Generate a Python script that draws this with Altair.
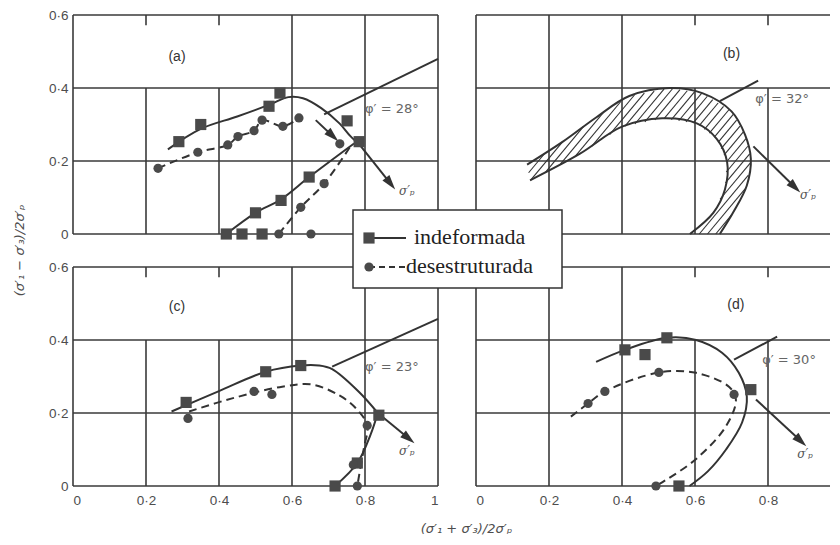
import math
import altair as alt
import pandas as pd

# ---------------- text / ticks ----------------
X_TICKS = [0, 0.2, 0.4, 0.6, 0.8, 1.0]
Y_TICKS = [0, 0.2, 0.4, 0.6]
SERIES = ["indeformada", "desestruturada"]
PANEL_LABELS = ["(a)", "(b)", "(c)", "(d)"]
PHI_LABELS = ["φ′ = 28°", "φ′ = 32°", "φ′ = 23°", "φ′ = 30°"]
SIGMA_LABEL = "σ′ₚ"
X_TITLE = "(σ′₁ + σ′₃)/2σ′ₚ"
Y_TITLE = "(σ′₁ − σ′₃)/2σ′ₚ"

# ---------------- panel (a) ----------------
A_SQ_X = [0.29, 0.35, 0.537, 0.567, 0.751, 0.784, 0.647, 0.57, 0.50, 0.42, 0.463, 0.518]
A_SQ_Y = [0.253, 0.30, 0.35, 0.386, 0.31, 0.253, 0.156, 0.092, 0.058, 0.0, 0.0, 0.0]
A_CI_X = [0.233, 0.342, 0.424, 0.452, 0.496, 0.518, 0.575, 0.619, 0.731, 0.688, 0.624, 0.564, 0.652]
A_CI_Y = [0.18, 0.224, 0.244, 0.267, 0.283, 0.312, 0.295, 0.318, 0.247, 0.138, 0.073, 0.0, 0.0]
A_YIELD_X = [0.26, 0.35, 0.45, 0.54, 0.59, 0.63, 0.68, 0.73, 0.76, 0.785]
A_YIELD_Y = [0.232, 0.288, 0.322, 0.355, 0.375, 0.372, 0.345, 0.303, 0.268, 0.245]
A_PATH_X = [0.42, 0.50, 0.57, 0.647, 0.77]
A_PATH_Y = [0.0, 0.058, 0.095, 0.156, 0.248]
A_DASH1_X = [0.233, 0.342, 0.424, 0.452, 0.496, 0.518, 0.575, 0.619]
A_DASH1_Y = [0.18, 0.224, 0.244, 0.267, 0.283, 0.312, 0.295, 0.318]
A_DASH2_X = [0.564, 0.624, 0.688, 0.76]
A_DASH2_Y = [0.0, 0.073, 0.138, 0.24]
A_FAIL_X = [0.688, 1.0]
A_FAIL_Y = [0.328, 0.48]
A_ARROWS = [(0.785, 0.245, 0.87, 0.138), (0.665, 0.312, 0.712, 0.268)]

# ---------------- panel (b) ----------------
B_OUT_X = [0.14, 0.238, 0.33, 0.42, 0.53, 0.62, 0.70, 0.737, 0.753, 0.742, 0.704, 0.668]
B_OUT_Y = [0.19, 0.253, 0.32, 0.378, 0.40, 0.386, 0.336, 0.272, 0.206, 0.133, 0.058, 0.0]
B_IN_X = [0.148, 0.285, 0.40, 0.51, 0.605, 0.66, 0.688, 0.682, 0.65, 0.586]
B_IN_Y = [0.147, 0.22, 0.294, 0.317, 0.303, 0.26, 0.197, 0.122, 0.058, 0.0]
B_FAIL_X = [0.668, 0.773]
B_FAIL_Y = [0.364, 0.42]
B_ARROWS = [(0.76, 0.24, 0.874, 0.128)]

# ---------------- panel (c) ----------------
C_SQ_X = [0.31, 0.528, 0.624, 0.838, 0.779, 0.718]
C_SQ_Y = [0.229, 0.313, 0.33, 0.194, 0.063, 0.0]
C_CI_X = [0.315, 0.496, 0.545, 0.806, 0.768, 0.779]
C_CI_Y = [0.185, 0.259, 0.251, 0.166, 0.058, 0.0]
C_SOLID_X = [0.27, 0.40, 0.528, 0.624, 0.674, 0.71, 0.783, 0.835]
C_SOLID_Y = [0.204, 0.26, 0.313, 0.33, 0.33, 0.32, 0.258, 0.2]
C_PATH_X = [0.718, 0.779, 0.815, 0.835]
C_PATH_Y = [0.0, 0.063, 0.14, 0.2]
C_DASH_X = [0.318, 0.436, 0.573, 0.655, 0.73, 0.775, 0.806, 0.797, 0.784, 0.779]
C_DASH_Y = [0.204, 0.24, 0.272, 0.278, 0.248, 0.213, 0.166, 0.104, 0.03, 0.0]
C_FAIL_X = [0.71, 1.0]
C_FAIL_Y = [0.327, 0.458]
C_ARROWS = [(0.835, 0.2, 0.92, 0.13)]

# ---------------- panel (d) ----------------
D_SQ_X = [0.408, 0.463, 0.523, 0.753, 0.556]
D_SQ_Y = [0.373, 0.36, 0.406, 0.264, 0.0]
D_CI_X = [0.307, 0.353, 0.501, 0.707, 0.493]
D_CI_Y = [0.226, 0.259, 0.311, 0.251, 0.0]
D_SOLID_X = [0.329, 0.408, 0.523, 0.603, 0.674, 0.72, 0.742, 0.729, 0.685, 0.635, 0.585]
D_SOLID_Y = [0.34, 0.373, 0.406, 0.4, 0.365, 0.31, 0.245, 0.174, 0.1, 0.04, 0.0]
D_DASH_X = [0.26, 0.307, 0.353, 0.501, 0.603, 0.693, 0.712, 0.685, 0.603, 0.51, 0.493]
D_DASH_Y = [0.19, 0.226, 0.259, 0.311, 0.31, 0.272, 0.237, 0.164, 0.074, 0.01, 0.0]
D_FAIL_X = [0.707, 0.825]
D_FAIL_Y = [0.346, 0.409]
D_ARROWS = [(0.767, 0.237, 0.89, 0.123)]

# annotation anchors (data coordinates of each panel)
LABEL_POS = [(0.285, 0.486), (0.70, 0.494), (0.285, 0.49), (0.712, 0.496)]
PHI_POS = [(0.80, 0.342), (0.765, 0.37), (0.80, 0.327), (0.784, 0.346)]
SIGMA_POS = [(0.893, 0.119), (0.888, 0.108), (0.893, 0.095), (0.88, 0.087)]

# ---------------- style ----------------
INK = "#333333"
MARKC = "#4a4a4a"
GRIDC = "#3a3a3a"
TXT = "#4d4d4d"
W_L, W_R, H = 365, 354, 219
PX_PER_UNIT = 365.0
ARROW_SHAPE = "M0,-1L0.6,1L-0.6,1Z"
LBL_EXPR = "datum.value == 0 ? '0' : (datum.value == 1 ? '1' : replace(format(datum.value, '.1f'), '.', '·'))"


def grid_df(xmax, broken):
    rows = []
    for xv in X_TICKS:
        if xv <= xmax + 1e-9:
            top = 0.4 if xv in broken else 0.6
            rows.append(dict(x=xv, y=0.0, x2=xv, y2=top))
            if xv in broken:
                rows.append(dict(x=xv, y=0.6, x2=xv, y2=0.572))
    for yv in Y_TICKS:
        rows.append(dict(x=0.0, y=yv, x2=xmax, y2=yv))
    return pd.DataFrame(rows)


def lines_df(curves):
    rows = []
    for s, (xs, ys) in enumerate(curves):
        for i, (xv, yv) in enumerate(zip(xs, ys)):
            rows.append(dict(seg=s, i=i, x=xv, y=yv))
    return pd.DataFrame(rows)


def hatch_df(px, py, k=1.2, step=0.027):
    n = len(px)
    vals = [py[i] - k * px[i] for i in range(n)]
    c = min(vals) + step / 2
    segs = []
    while c < max(vals):
        pts = []
        for i in range(n):
            j = (i + 1) % n
            f1, f2 = vals[i] - c, vals[j] - c
            if (f1 > 0) != (f2 > 0):
                t = f1 / (f1 - f2)
                pts.append((px[i] + t * (px[j] - px[i]), py[i] + t * (py[j] - py[i])))
        pts.sort()
        for m in range(0, len(pts) - 1, 2):
            segs.append(dict(x=pts[m][0], y=pts[m][1], x2=pts[m + 1][0], y2=pts[m + 1][1]))
        c += step
    return pd.DataFrame(segs)


def panel(idx, xmax, width, xaxis_extra, yaxis_extra, broken, solid, dashed, sq, ci, arrows,
          hatch=None, extra=None):
    xs = alt.Scale(domain=[0, xmax], nice=False, zero=False)
    ys = alt.Scale(domain=[0, 0.6], nice=False, zero=False)
    ax_common = dict(grid=False, ticks=False, domain=False, labelExpr=LBL_EXPR,
                     labelFont="Liberation Sans", labelFontSize=13.5, labelColor=TXT,
                     titleFont="DejaVu Sans", titleFontSize=13, titleFontStyle="italic",
                     titleFontWeight="normal", titleColor=TXT)
    xaxis = None
    if xaxis_extra is not None:
        xaxis = alt.Axis(values=[v for v in X_TICKS if v <= xmax + 1e-9], labelPadding=7,
                         **ax_common, **xaxis_extra)
    yaxis = None
    if yaxis_extra is not None:
        yaxis = alt.Axis(values=Y_TICKS, labelPadding=5, **ax_common, **yaxis_extra)
    X = alt.X("x:Q", scale=xs, axis=xaxis)
    Y = alt.Y("y:Q", scale=ys, axis=yaxis)

    layers = []
    layers.append(alt.Chart(grid_df(xmax, broken)).mark_rule(color=GRIDC, strokeWidth=1.6).encode(
        x=X, y=Y, x2="x2:Q", y2="y2:Q"))
    if hatch is not None:
        layers.append(alt.Chart(hatch).mark_rule(color=INK, strokeWidth=1.1).encode(
            x=X, y=Y, x2="x2:Q", y2="y2:Q"))
    if solid:
        layers.append(alt.Chart(lines_df(solid)).mark_line(
            color=INK, strokeWidth=2, interpolate="catmull-rom").encode(
            x=X, y=Y, detail="seg:N", order="i:Q"))
    if dashed:
        layers.append(alt.Chart(lines_df(dashed)).mark_line(
            color=INK, strokeWidth=2, strokeDash=[8, 5], interpolate="catmull-rom").encode(
            x=X, y=Y, detail="seg:N", order="i:Q"))
    if arrows:
        shafts = pd.DataFrame([dict(x=a[0], y=a[1], x2=a[2], y2=a[3]) for a in arrows])
        heads = pd.DataFrame([dict(x=a[2], y=a[3],
                                   ang=math.degrees(math.atan2(a[2] - a[0], a[3] - a[1])) % 360)
                              for a in arrows])
        layers.append(alt.Chart(shafts).mark_rule(color=INK, strokeWidth=2).encode(
            x=X, y=Y, x2="x2:Q", y2="y2:Q"))
        layers.append(alt.Chart(heads).mark_point(shape=ARROW_SHAPE, filled=True, color=INK,
                                                  size=220, opacity=1).encode(
            x=X, y=Y, angle=alt.Angle("ang:Q", scale=None)))
    if sq is not None:
        layers.append(alt.Chart(pd.DataFrame(dict(x=sq[0], y=sq[1]))).mark_point(
            shape="square", filled=True, color=MARKC, size=125, opacity=1).encode(x=X, y=Y))
    if ci is not None:
        layers.append(alt.Chart(pd.DataFrame(dict(x=ci[0], y=ci[1]))).mark_point(
            shape="circle", filled=True, color=MARKC, size=85, opacity=1).encode(x=X, y=Y))
    # annotations
    lp, pp, sp = LABEL_POS[idx], PHI_POS[idx], SIGMA_POS[idx]
    layers.append(alt.Chart(pd.DataFrame([dict(x=lp[0], y=lp[1], t=PANEL_LABELS[idx])])).mark_text(
        font="Liberation Sans", fontSize=14, color=INK, align="center", baseline="middle").encode(
        x=X, y=Y, text="t:N"))
    layers.append(alt.Chart(pd.DataFrame([dict(x=pp[0], y=pp[1], t=PHI_LABELS[idx])])).mark_text(
        font="DejaVu Sans", fontSize=13, color="#666666", align="left", baseline="middle").encode(
        x=X, y=Y, text="t:N"))
    layers.append(alt.Chart(pd.DataFrame([dict(x=sp[0], y=sp[1], t=SIGMA_LABEL)])).mark_text(
        font="DejaVu Serif", fontSize=12, fontStyle="italic", color="#555555", align="left",
        baseline="middle").encode(x=X, y=Y, text="t:N"))
    if extra:
        layers.extend(extra)
    return alt.layer(*layers).properties(width=width, height=H)


XR = W_R / PX_PER_UNIT

# legend (drawn in last panel so it sits on top of every grid line)
leg_df = pd.DataFrame({"k": [0]})
legend_layers = [
    alt.Chart(leg_df).mark_rect(fill="white", stroke=INK, strokeWidth=1.5).encode(
        x=alt.value(-123), x2=alt.value(86), y=alt.value(-57), y2=alt.value(21)),
    alt.Chart(leg_df).mark_rule(color=INK, strokeWidth=2).encode(
        x=alt.value(-107), x2=alt.value(-70), y=alt.value(-29), y2=alt.value(-29)),
    alt.Chart(leg_df).mark_point(shape="square", filled=True, color=MARKC, size=125, opacity=1).encode(
        x=alt.value(-107), y=alt.value(-29)),
    alt.Chart(leg_df).mark_text(text=SERIES[0], font="Liberation Serif", fontSize=22, color="#222222",
                                align="left", baseline="middle").encode(x=alt.value(-62), y=alt.value(-30)),
    alt.Chart(leg_df).mark_rule(color=INK, strokeWidth=2, strokeDash=[6, 4]).encode(
        x=alt.value(-107), x2=alt.value(-71), y=alt.value(0), y2=alt.value(0)),
    alt.Chart(leg_df).mark_point(shape="circle", filled=True, color=MARKC, size=85, opacity=1).encode(
        x=alt.value(-107), y=alt.value(0)),
    alt.Chart(leg_df).mark_text(text=SERIES[1], font="Liberation Serif", fontSize=22, color="#222222",
                                align="left", baseline="middle").encode(x=alt.value(-70), y=alt.value(-1)),
]

# y-axis title centred on the whole figure (left of panel a), x-axis title under the pair (panel c)
Y_AXIS_TITLE = dict(title=Y_TITLE, titleX=-54, titleY=235, titleAngle=270, titleAlign="center",
                    titleBaseline="middle")
X_AXIS_TITLE = dict(title=X_TITLE, titleX=393, titleY=42, titleAlign="center", titleBaseline="middle")
NO_TITLE = dict(title=None)

pa = panel(0, 1.0, W_L, None, Y_AXIS_TITLE, [0.2, 0.4],
           [(A_YIELD_X, A_YIELD_Y), (A_PATH_X, A_PATH_Y), (A_FAIL_X, A_FAIL_Y)],
           [(A_DASH1_X, A_DASH1_Y), (A_DASH2_X, A_DASH2_Y)],
           (A_SQ_X, A_SQ_Y), (A_CI_X, A_CI_Y), A_ARROWS)

poly_x = B_OUT_X + B_IN_X[::-1]
poly_y = B_OUT_Y + B_IN_Y[::-1]
pb = panel(1, XR, W_R, None, None, [0.6, 0.8],
           [(B_OUT_X, B_OUT_Y), (B_IN_X, B_IN_Y), (B_FAIL_X, B_FAIL_Y)],
           [], None, None, B_ARROWS, hatch=hatch_df(poly_x, poly_y))

pc = panel(2, 1.0, W_L, X_AXIS_TITLE, NO_TITLE, [0.2, 0.4],
           [(C_SOLID_X, C_SOLID_Y), (C_PATH_X, C_PATH_Y), (C_FAIL_X, C_FAIL_Y)],
           [(C_DASH_X, C_DASH_Y)],
           (C_SQ_X, C_SQ_Y), (C_CI_X, C_CI_Y), C_ARROWS)

pd_ = panel(3, XR, W_R, NO_TITLE, None, [0.6, 0.8],
            [(D_SOLID_X, D_SOLID_Y), (D_FAIL_X, D_FAIL_Y)],
            [(D_DASH_X, D_DASH_Y)],
            (D_SQ_X, D_SQ_Y), (D_CI_X, D_CI_Y), D_ARROWS, extra=legend_layers)

chart = alt.concat(pa, pb, pc, pd_, columns=2, spacing={"row": 33, "column": 38}, bounds="flush"
                   ).properties(padding={"left": 5, "right": 0, "top": 0, "bottom": 0}
                   ).configure_view(stroke=None)

chart.save("out.html", embed_options={"renderer": "svg", "actions": False})
